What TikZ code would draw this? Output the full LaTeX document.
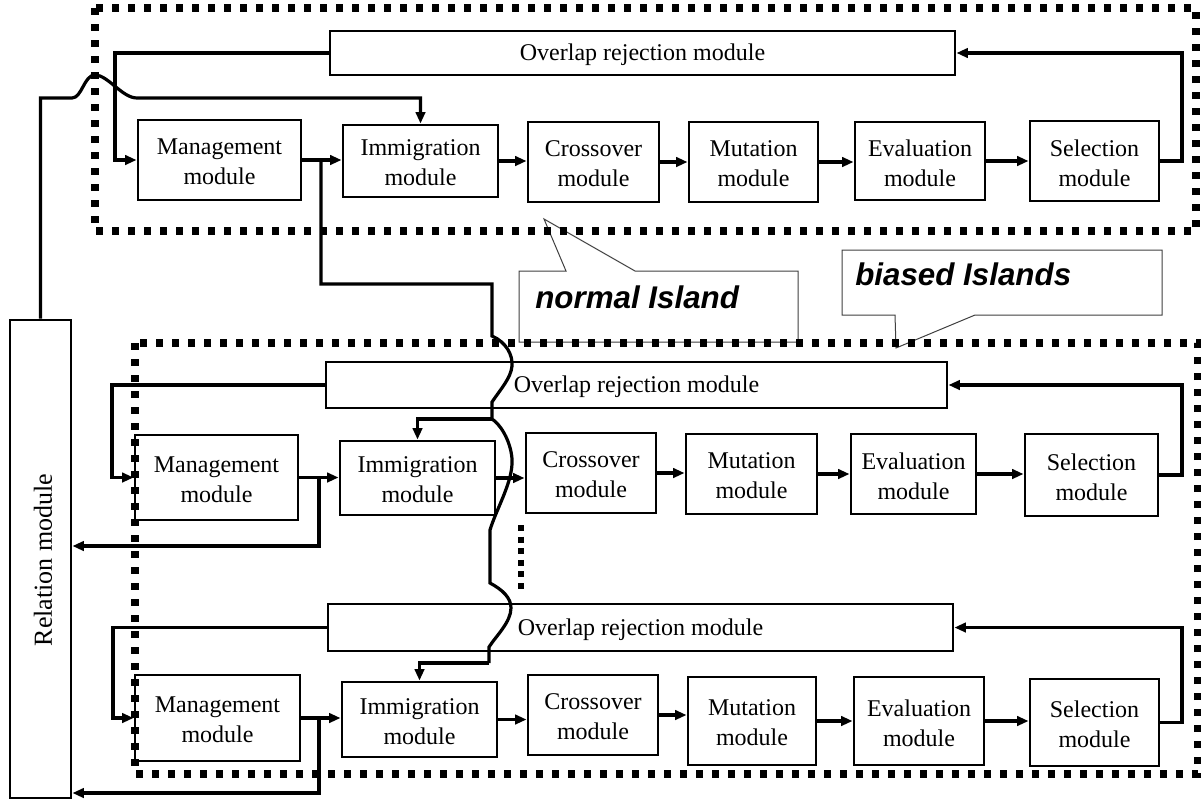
\documentclass[tikz,border=0pt]{standalone}
\usepackage{fontspec}
\setmainfont{Liberation Serif}
\newfontfamily\calloutfont{Liberation Sans}
\usetikzlibrary{arrows.meta}
\newcommand\modbox[6]{%
  \node[box,minimum width={(#4-#2)*0.75pt},minimum height={(#5-#3)*0.75pt}] (#1) at ({(#2+#4)/2},{(#3+#5)/2}) {};%
  \node[boxtext] (#1-t) at ([yshift=-1.5pt]#1.center) {#6};}
\begin{document}
\begin{tikzpicture}[x=0.75pt,y=-0.75pt,
  box/.style={draw,line width=2.2pt,inner sep=0pt,fill=white},
  boxtext/.style={inner sep=0pt,align=center,font=\fontsize{18}{22.5}\selectfont},
  conn/.style={line width=2.4pt,line join=miter},
  arr/.style={conn,-{Triangle[length=8.5pt,width=7pt]}},
  island/.style={line width=5.4pt,dash pattern=on 5.4pt off 6.6pt},
  dots/.style={line width=4.5pt,dash pattern=on 4.5pt off 4.2pt},
  callout/.style={draw=black!75,line width=0.75pt,fill=white},
  calltext/.style={font=\calloutfont\bfseries\itshape\fontsize{23.5}{28}\selectfont,anchor=base west,inner sep=0pt},
]
\useasboundingbox (0,0) rectangle (1201,801);

% callouts
\draw[callout] (519,271) -- (566,271) -- (544,219) -- (635,271) -- (798,271) -- (798,342) -- (519,342) -- cycle;
\node[calltext] (normal) at (535,308) {normal Island};
\draw[callout] (842,250) -- (1162,250) -- (1162,315) -- (975,315) -- (896,348) -- (895,315) -- (842,315) -- cycle;
\node[calltext] (biased) at (855,285) {biased Islands};

% relation module
\node[box,minimum width={61*0.75pt},minimum height={478*0.75pt}] (rel) at (40.5,559) {};
\node[rotate=90,font=\fontsize{19.5}{22.5}\selectfont] (reltxt) at (43,560) {Relation module};

% row 1
\modbox{o1}{330}{31}{955}{75}{Overlap rejection module}
\modbox{m1}{138}{120}{301}{200}{Management\\module}
\modbox{i1}{343}{125}{498}{197}{Immigration\\module}
\modbox{c1}{528}{122}{659}{202}{Crossover\\module}
\modbox{u1}{689}{122}{818}{202}{Mutation\\module}
\modbox{e1}{855}{122}{985}{200}{Evaluation\\module}
\modbox{s1}{1030}{121}{1159}{201}{Selection\\module}

% row 2
\modbox{o2}{326}{362}{947}{408}{Overlap rejection module}
\modbox{m2}{135}{435}{298}{520}{Management\\module}
\modbox{i2}{340}{441}{495}{515}{Immigration\\module}
\modbox{c2}{526}{433}{656}{513}{Crossover\\module}
\modbox{u2}{686}{434}{817}{514}{Mutation\\module}
\modbox{e2}{851}{434}{976}{514}{Evaluation\\module}
\modbox{s2}{1025}{434}{1158}{516}{Selection\\module}

% row 3
\modbox{o3}{328}{604}{953}{651}{Overlap rejection module}
\modbox{m3}{135}{675}{300}{761}{Management\\module}
\modbox{i3}{342}{682}{497}{757}{Immigration\\module}
\modbox{c3}{528}{675}{658}{755}{Crossover\\module}
\modbox{u3}{688}{677}{816}{765}{Mutation\\module}
\modbox{e3}{854}{677}{984}{765}{Evaluation\\module}
\modbox{s3}{1030}{679}{1159}{766}{Selection\\module}

\coordinate (r) at (1182,0);
\coordinate (l1) at (115,0);
\coordinate (l2) at (112,0);
\coordinate (l3) at (113,0);

% chains
\foreach \k in {1,2,3}{
  \draw[arr] (m\k.east) -- (m\k.east -| i\k.west);
  \draw[arr] (i\k.east) -- (i\k.east -| c\k.west);
  \draw[arr] (c\k.east) -- (c\k.east -| u\k.west);
  \draw[arr] (u\k.east) -- (u\k.east -| e\k.west);
  \draw[arr] (e\k.east) -- (e\k.east -| s\k.west);
  \draw[arr] (s\k.east) -- (r |- s\k.east) |- (o\k.east);
  \draw[arr] (o\k.west) -| (l\k |- m\k.west) -- (m\k.west);
}

% relation to top immigration (with hop)
\coordinate (hopL) at (72,98);
\coordinate (hopR) at (137,98);
\draw[arr] (rel.north) -- (rel.north |- hopL) -- (hopL)
  .. controls (82,98) and (84,75) .. (95,75)
  .. controls (108,75) and (122,98) .. (hopR) -| (i1.north);

% migration line (wavy)
\coordinate (j1) at (321,0);
\draw[conn] (j1 |- m1.east) -- (321,284) -- (492,284) -- (492,336)
  .. controls (506,342) and (513,355) .. (512,366)
  .. controls (511,378) and (500,390) .. (492,402)
  -- (492,419) coordinate (w2)
  .. controls (505,428) and (513,450) .. (512,464)
  .. controls (511,485) and (496,510) .. (490,530)
  -- (490,583)
  .. controls (503,590) and (511,598) .. (511,608)
  .. controls (511,622) and (496,636) .. (489,647)
  -- (489,663) coordinate (w3);
\draw[arr] (w2) -| (i2.north);
\draw[arr] (w3) -| (i3.north);

% lower islands to relation module
\coordinate (j2) at (319,0);
\coordinate (k2) at (319,546);
\coordinate (k3) at (319,793);
\draw[arr] (j2 |- m2.east) -- (k2) -- (k2 -| rel.east);
\draw[arr] (j2 |- m3.east) -- (k3) -- (k3 -| rel.east);

% vertical dots
\draw[dots] (521,525) -- (521,592);

% islands
\draw[island] (95,8) rectangle (1196,231);
\draw[island] (135,343) rectangle (1198,774);
\end{tikzpicture}
\end{document}
